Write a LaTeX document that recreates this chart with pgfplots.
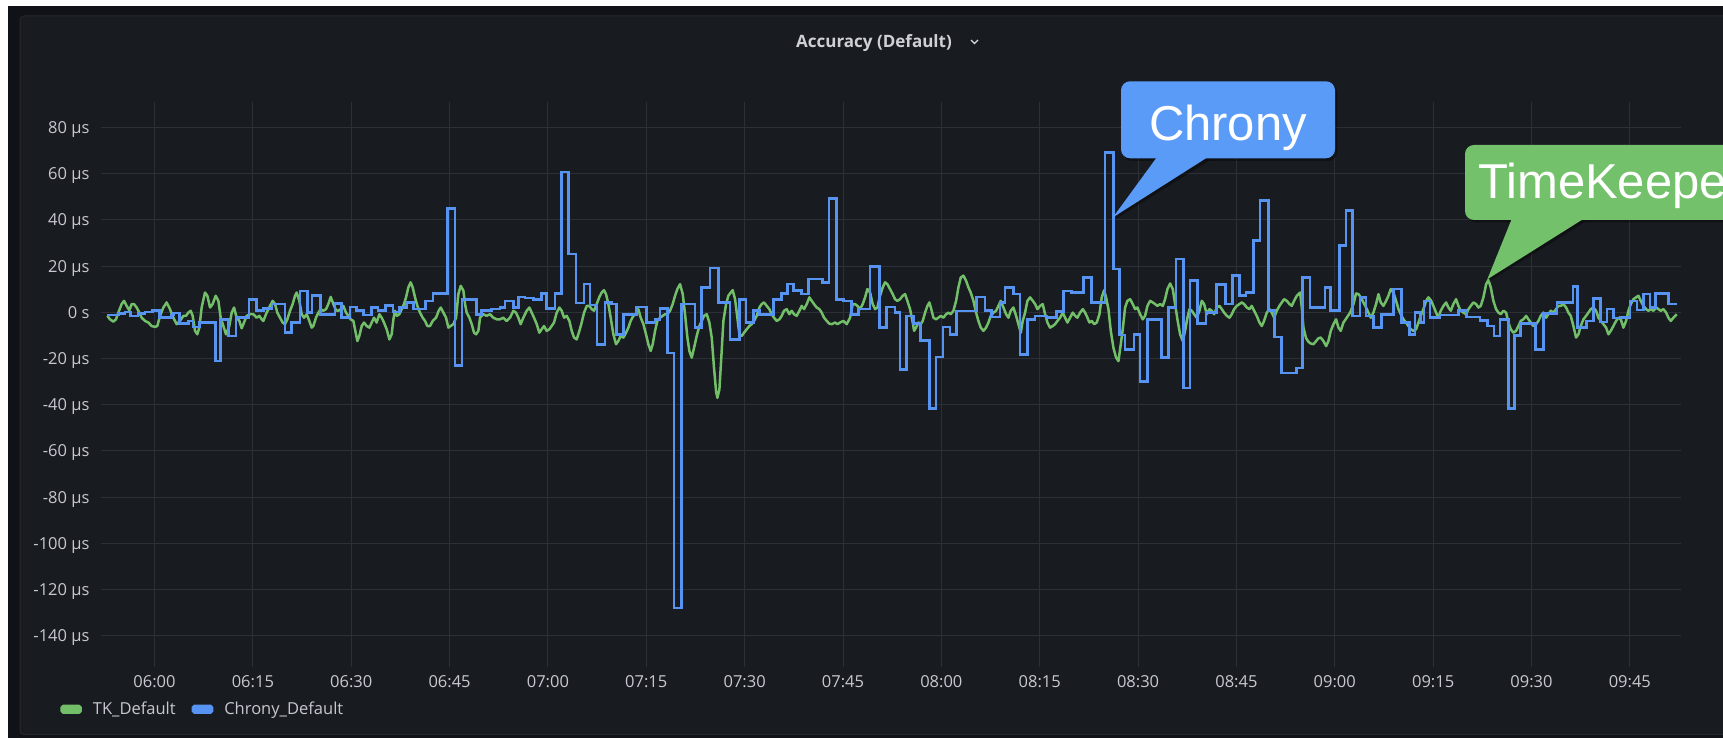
\documentclass[border=0pt]{standalone}
\usepackage{pgfplots}
\pgfplotsset{compat=1.18}
\usepackage{fontspec}
\setmainfont{Open Sans}
\newfontfamily\callfont{Liberation Sans}
\definecolor{outerbg}{HTML}{111217}
\definecolor{panelbg}{HTML}{181B1F}
\definecolor{panelborder}{HTML}{24272C}
\definecolor{gridcol}{HTML}{2C2F35}
\definecolor{tickcol}{HTML}{C7C8D1}
\definecolor{titlecol}{HTML}{CFD0D6}
\definecolor{tkgreen}{HTML}{73BF69}
\definecolor{chronyblue}{HTML}{5794F2}
\definecolor{callblue}{HTML}{5B9BF8}
\definecolor{callgreen}{HTML}{73C16B}
\begin{document}
\begin{tikzpicture}[x=1pt,y=1pt]
\fill[white] (0,0) rectangle (1723,738);
\useasboundingbox (0,0) rectangle (1723,738);
\fill[outerbg] (8,0) rectangle (1723,732);
\fill[panelbg, draw=panelborder, line width=1pt, rounded corners=4pt] (20,3.5) rectangle (1745,722);
\begin{axis}[
  at={(101pt,71pt)}, anchor=south west, scale only axis,
  width=1580pt, height=565.3pt,
  xmin=-8.16, xmax=232.8, ymin=-153.5, ymax=91.2,
  axis line style={draw=none}, tick style={draw=none}, major tick length=0pt,
  grid=major, major grid style={gridcol, line width=1pt},
  xtick={0,15,...,225},
  xticklabels={06:00,06:15,06:30,06:45,07:00,07:15,07:30,07:45,08:00,08:15,08:30,08:45,09:00,09:15,09:30,09:45},
  ytick={-140,-120,...,80},
  yticklabels={-140 µs,-120 µs,-100 µs,-80 µs,-60 µs,-40 µs,-20 µs,0 s,20 µs,40 µs,60 µs,80 µs},
  xticklabel style={anchor=base, yshift=-20.5pt, font=\fontsize{16.5}{18}\selectfont, text=tickcol},
  yticklabel style={anchor=base east, xshift=-8pt, yshift=-6pt, font=\fontsize{16.5}{18}\selectfont, text=tickcol},
  legend columns=-1,
  legend image code/.code={\fill[#1, rounded corners=1.5pt] (0pt,-3.3pt) rectangle (19pt,3.3pt);},
  legend style={at={(-0.0257,-0.0748)}, anchor=west, draw=none, fill=none, inner sep=0pt, outer sep=0pt,
    font=\fontsize{16.5}{18}\selectfont, text=tickcol,
    /tikz/every odd column/.append style={column sep=11pt},
    /tikz/every even column/.append style={column sep=16pt},
    nodes={inner sep=0pt}},
]
\addplot[tkgreen, line width=2.5pt, line join=round] coordinates {
(-7.19,-1.5)(-6.79,-3.0)(-6.28,-4.0)(-5.87,-3.0)(-5.52,-0.1)(-5.01,3.6)(-4.65,5.0)(-4.25,2.8)(-3.84,0.9)(-3.48,3.6)(-3.13,3.6)(-2.72,2.1)(-2.31,-0.1)(-1.96,-2.3)(-1.45,-3.7)(-0.94,-4.4)(-0.43,-5.9)(0.08,-6.3)(0.43,-5.9)(0.84,-1.5)(1.35,2.1)(1.86,4.3)(2.36,1.4)(2.87,-2.3)(3.38,-5.1)(3.89,-3.7)(4.40,-1.5)(4.80,-1.5)(5.16,-0.1)(5.52,0.7)(5.82,-1.5)(6.18,-8.0)(6.53,-9.5)(6.84,-6.6)(7.19,2.1)(7.70,8.6)(8.06,7.2)(8.47,2.1)(8.87,3.6)(9.33,7.2)(9.74,5.0)(10.09,-2.3)(10.50,-5.9)(10.91,-9.5)(11.41,-5.9)(11.77,-0.1)(12.13,2.1)(12.53,-2.3)(12.94,-3.7)(13.29,-6.9)(13.65,-4.4)(14.06,-1.5)(14.57,-0.8)(15.07,-0.8)(15.58,-2.3)(15.99,-1.5)(16.34,-3.0)(16.60,-3.7)(17.11,-0.1)(17.62,2.8)(18.02,5.0)(18.38,3.6)(18.73,-0.1)(19.14,-2.3)(19.55,-4.4)(19.90,-5.1)(20.26,-3.0)(20.67,0.7)(21.07,3.6)(21.43,7.2)(21.68,8.6)(22.09,5.0)(22.44,-0.8)(22.80,-2.3)(23.21,-0.8)(23.61,-3.7)(23.97,-6.6)(24.22,-5.9)(24.63,-2.3)(24.99,-0.1)(25.34,1.4)(25.75,0.7)(26.16,1.4)(26.51,3.6)(26.87,6.7)(27.28,3.6)(27.68,0.9)(28.04,0.7)(28.40,1.4)(28.80,2.8)(29.21,-0.1)(29.56,-1.5)(29.92,-3.0)(30.33,-3.7)(30.68,-8.8)(30.94,-12.4)(31.24,-10.2)(31.60,-5.9)(31.95,-4.4)(32.36,-5.9)(32.77,-6.6)(33.12,-4.4)(33.48,-2.3)(33.88,-4.4)(34.29,-0.8)(34.65,-2.3)(35.00,-4.4)(35.41,-7.3)(35.82,-11.7)(36.17,-9.5)(36.43,-3.0)(36.68,0.7)(36.94,-1.5)(37.34,-0.8)(37.70,1.4)(38.05,3.6)(38.36,6.5)(38.71,10.8)(39.07,13.0)(39.38,10.8)(39.73,6.5)(40.09,2.8)(40.49,-0.1)(40.90,-2.3)(41.26,-3.7)(41.61,-5.9)(42.02,-5.9)(42.43,-3.7)(42.94,-2.3)(43.34,0.7)(43.65,2.1)(44.06,-0.1)(44.46,-2.3)(44.82,-6.6)(45.17,-5.9)(45.58,-5.1)(45.99,-2.3)(46.34,7.9)(46.70,11.5)(47.11,9.4)(47.36,3.6)(47.61,-0.1)(48.02,-2.3)(48.38,-5.1)(48.73,-8.8)(49.04,-9.5)(49.39,-8.0)(49.65,-2.3)(50.15,-0.8)(50.66,-1.5)(51.17,-0.8)(51.68,-2.3)(52.19,-3.0)
(52.70,-3.0)(53.20,-2.3)(53.71,-3.7)(54.22,-2.3)(54.73,0.7)(55.13,-0.1)(55.49,-2.3)(55.84,-5.1)(56.25,-2.3)(56.76,0.7)(57.17,2.1)(57.52,-0.1)(57.88,-2.3)(58.29,-5.1)(58.69,-8.8)(59.05,-7.3)(59.41,-5.9)(59.81,-8.0)(60.22,-7.3)(60.57,-5.9)(60.93,-4.4)(61.34,-0.1)(61.74,2.1)(62.10,0.7)(62.46,-2.3)(62.86,-1.5)(63.27,-3.7)(63.63,-8.0)(63.98,-10.9)(64.39,-11.7)(64.80,-8.0)(65.15,-4.4)(65.51,-0.1)(65.92,2.8)(66.32,2.8)(66.68,1.4)(67.03,0.7)(67.44,3.6)(67.85,6.7)(68.20,8.6)(68.56,9.6)(68.86,7.9)(69.22,3.6)(69.57,-2.3)(69.98,-9.5)(70.39,-13.8)(70.74,-12.4)(71.10,-10.2)(71.51,-10.9)(71.91,-8.8)(72.27,-6.6)(72.62,-3.7)(73.03,-1.5)(73.44,-0.8)(73.79,1.4)(74.15,-2.3)(74.56,-5.1)(74.96,-9.5)(75.32,-13.8)(75.67,-16.7)(75.98,-13.8)(76.34,-8.0)(76.69,-3.7)(77.10,-2.3)(77.51,-1.5)(77.86,-0.8)(78.22,-0.8)(78.62,0.7)(79.03,3.6)(79.39,7.2)(79.74,10.1)(80.15,12.2)(80.56,7.9)(80.91,-0.8)(81.27,-10.9)(81.57,-16.7)(81.93,-19.6)(82.29,-15.3)(82.69,-10.2)(83.10,-5.9)(83.45,-3.7)(83.81,-1.5)(84.22,-0.8)(84.62,-4.4)(84.98,-10.9)(85.33,-24.0)(85.64,-34.1)(85.84,-37.0)(86.15,-33.4)(86.50,-16.7)(86.76,-3.7)(87.17,3.6)(87.52,7.2)(87.88,8.6)(88.18,9.6)(88.54,5.7)(88.89,-2.3)(89.20,-9.5)(89.56,-10.2)(89.91,-8.8)(90.32,-7.3)(90.72,-5.9)(91.08,-5.1)(91.44,-3.7)(91.84,-1.5)(92.25,2.1)(92.60,3.6)(92.96,4.3)(93.37,2.8)(93.77,1.4)(94.13,-0.8)(94.48,-2.3)(94.89,-3.7)(95.30,-3.0)(95.65,-1.5)(96.01,0.7)(96.42,1.4)(96.82,-0.8)(97.18,0.7)(97.53,-0.8)(97.94,-1.5)(98.35,0.7)(98.70,2.8)(99.06,1.4)(99.47,3.6)(99.87,6.5)(100.23,5.0)(100.58,3.6)(100.99,2.1)(101.40,1.4)(101.75,-0.1)(102.11,-2.3)(102.52,-3.7)(102.92,-4.9)(103.28,-5.1)(103.79,-4.4)(104.15,-5.1)(104.55,-4.4)(105.06,-3.7)(105.57,-5.1)(106.08,-2.3)(106.48,3.6)(106.84,3.6)(107.20,2.8)(107.60,1.4)(108.01,3.6)(108.37,6.5)(108.72,10.1)(109.13,8.6)(109.53,3.6)(109.89,1.4)(110.24,2.1)(110.65,7.2)(111.06,10.8)(111.41,13.0)(111.77,12.2)(112.17,10.1)(112.58,7.9)(112.94,5.7)(113.29,5.0)
(113.70,5.7)(114.11,7.2)(114.47,7.9)(114.82,5.0)(115.23,1.4)(115.64,-4.4)(115.84,-8.0)(116.14,-6.6)(116.50,-4.4)(116.86,-5.1)(117.16,-3.7)(117.52,-0.1)(117.87,2.8)(118.18,4.3)(118.53,0.7)(118.79,-2.3)(119.19,-3.0)(119.55,-2.3)(119.91,-1.5)(120.31,-2.3)(120.72,-0.8)(121.08,-0.1)(121.43,-0.8)(121.84,0.7)(122.25,5.0)(122.60,10.8)(122.96,15.1)(123.36,15.9)(123.77,13.7)(124.13,10.8)(124.48,8.6)(124.89,5.0)(125.30,-0.1)(125.65,-3.7)(126.01,-6.6)(126.42,-8.0)(126.82,-6.6)(127.18,-4.4)(127.53,-1.5)(127.94,-0.1)(128.35,0.7)(128.70,2.8)(129.06,5.0)(129.47,2.1)(129.87,-0.8)(130.23,-2.3)(130.58,0.7)(130.99,2.1)(131.40,-1.5)(131.75,-5.1)(132.11,-8.8)(132.41,-3.7)(132.77,-0.1)(133.13,5.0)(133.53,6.5)(133.94,5.0)(134.30,3.6)(134.65,1.4)(135.06,2.8)(135.46,3.6)(135.82,-0.8)(136.18,-4.4)(136.58,-6.6)(136.99,-5.9)(137.35,-5.1)(137.70,-3.7)(138.11,-2.3)(138.52,-0.1)(138.87,-2.3)(139.23,-4.4)(139.63,-2.3)(140.04,-0.1)(140.40,-1.5)(140.75,-2.3)(141.16,-0.1)(141.57,1.4)(141.92,-0.1)(142.28,-2.3)(142.58,-4.4)(142.94,-3.7)(143.30,-5.1)(143.70,-4.4)(144.11,-0.8)(144.46,6.5)(144.82,9.6)(145.12,6.5)(145.48,1.4)(145.84,-8.0)(146.24,-15.3)(146.65,-19.6)(147.01,-21.1)(147.36,-13.8)(147.67,-7.3)(148.02,2.1)(148.38,5.0)(148.79,5.7)(149.19,3.6)(149.55,1.4)(149.90,2.1)(150.31,-0.8)(150.72,-3.0)(151.07,-1.5)(151.43,2.8)(151.84,5.0)(152.24,4.3)(152.60,3.6)(152.95,2.8)(153.36,3.6)(153.77,2.8)(154.12,5.7)(154.48,10.1)(154.89,12.5)(155.29,10.1)(155.65,3.6)(156.00,-3.0)(156.41,-9.5)(156.82,-12.4)(157.17,-8.0)(157.53,-2.3)(157.84,1.4)(158.19,0.7)(158.55,-0.8)(158.95,-2.3)(159.36,0.7)(159.72,5.0)(160.07,3.6)(160.48,-0.8)(160.89,1.4)(161.24,0.7)(161.60,-0.8)(162.00,2.1)(162.41,2.8)(162.77,1.4)(163.12,-0.1)(163.53,-1.5)(163.94,-2.3)(164.29,-0.8)(164.65,1.4)(165.05,2.8)(165.46,3.6)(165.82,4.3)(166.17,3.6)(166.58,2.1)(166.99,1.4)(167.34,2.8)(167.70,0.7)(168.10,-1.5)(168.51,-4.4)(168.87,-5.9)(169.22,-3.7)(169.63,-0.1)(170.04,1.4)(170.39,-0.1)(170.75,-2.3)(171.15,0.7)(171.56,2.8)(171.92,4.3)(172.27,5.7)(172.68,5.0)(173.09,3.6)(173.44,2.8)(173.80,5.0)(174.21,7.2)
(174.71,8.6)(174.97,2.1)(175.22,-6.6)(175.63,-11.2)(175.98,-12.7)(176.34,-13.5)(176.75,-13.8)(177.15,-12.4)(177.51,-11.2)(177.86,-10.9)(178.27,-12.4)(178.68,-14.6)(179.03,-12.4)(179.39,-8.0)(179.80,-5.1)(180.20,-3.0)(180.56,-6.6)(180.91,-8.0)(181.32,-4.4)(181.83,-2.3)(182.34,-0.1)(182.85,3.6)(183.25,8.2)(183.61,7.9)(183.96,6.5)(184.37,4.3)(184.78,2.1)(185.13,-0.1)(185.49,-2.3)(185.89,-0.1)(186.30,3.6)(186.66,7.9)(187.01,4.3)(187.42,2.8)(187.83,5.0)(188.18,7.2)(188.54,10.1)(188.94,8.6)(189.35,5.0)(189.71,1.4)(190.06,-0.8)(190.47,-3.0)(190.87,-4.4)(191.23,-5.9)(191.59,-7.3)(191.99,-8.0)(192.40,-7.3)(192.76,-4.4)(193.11,-1.5)(193.52,1.4)(193.93,5.0)(194.28,6.5)(194.64,5.3)(195.04,2.8)(195.45,-0.1)(195.81,-2.3)(196.16,0.7)(196.57,2.8)(196.98,4.3)(197.33,2.1)(197.69,0.7)(198.09,3.6)(198.50,5.7)(198.86,2.8)(199.21,0.7)(199.62,-0.1)(200.03,-0.8)(200.38,1.4)(200.74,2.8)(201.14,4.3)(201.55,3.6)(201.91,2.1)(202.26,2.8)(202.67,6.5)(203.08,12.2)(203.43,14.0)(203.79,10.8)(204.19,5.0)(204.60,1.4)(204.96,-0.1)(205.31,-0.8)(205.72,0.7)(206.13,-0.1)(206.48,-4.4)(206.84,-7.3)(207.24,-8.8)(207.65,-8.0)(208.01,-5.9)(208.36,-3.7)(208.77,-3.0)(209.18,-1.5)(209.53,-3.0)(209.89,-4.4)(210.30,-5.9)(210.70,-5.1)(211.06,-3.7)(211.41,-1.5)(211.82,-0.1)(212.23,-2.3)(212.58,-0.8)(212.94,0.7)(213.35,-0.1)(213.75,1.4)(214.11,2.8)(214.46,2.8)(214.87,3.6)(215.28,2.1)(215.63,-0.1)(215.99,-1.5)(216.39,-5.9)(216.80,-10.9)(217.16,-9.5)(217.51,-5.9)(217.92,-3.0)(218.33,-1.5)(218.68,-0.1)(219.04,1.4)(219.44,2.1)(219.85,0.7)(220.21,-2.3)(220.56,-3.7)(220.97,-5.1)(221.38,-6.6)(221.73,-9.5)(222.09,-8.0)(222.49,-5.9)(222.90,-3.7)(223.26,-2.3)(223.61,-3.0)(224.02,-6.6)(224.43,-3.7)(224.78,0.7)(225.14,3.6)(225.55,5.7)(225.95,6.5)(226.31,7.2)(226.66,5.0)(227.07,2.8)(227.48,1.4)(227.83,0.7)(228.19,1.4)(228.60,0.7)(229.00,2.1)(229.36,1.4)(229.72,0.7)(230.12,1.4)(230.53,-0.1)(230.88,-2.3)(231.24,-3.7)(231.65,-2.3)(232.15,-0.8)
};
\addlegendentry{TK\_Default}
\addplot[chronyblue, line width=2.6pt, const plot] coordinates {
(-7.2,-1.2)(-5.5,-0.5)(-4.5,0.2)(-3.7,-1.5)(-2.5,-0.5)(-1.45,0.2)(-0.3,0.9)(0.74,-2.2)(2.6,-1.2)(2.9,-0.2)(3.8,-4.9)(5.2,-3.7)(5.9,-6.3)(6.9,-4.4)(9.3,-21.1)(10.1,-3.0)(11.3,-10.2)(12.4,-2.2)(14.4,5.7)(15.6,0.7)(16.6,1.8)(17.9,3.6)(19.9,-8.8)(20.9,-4.4)(22.2,9.3)(23.3,-0.1)(24.0,7.2)(25.3,-0.8)(27.5,3.8)(28.5,-2.2)(29.8,2.4)(30.8,0.7)(31.9,-1.2)(33.1,2.1)(34.1,0.7)(35.2,3.1)(36.4,0.2)(37.4,2.1)(38.4,4.3)(39.5,1.4)(41.3,5.0)(42.5,8.3)(44.7,44.9)(45.8,-23.0)(46.9,5.7)(49.1,-0.8)(49.9,0.7)(51.4,1.4)
(52.7,2.1)(53.46,5.0)(54.73,2.1)(55.49,6.7)(56.51,6.2)(57.78,5.7)(59.05,8.2)(59.81,1.8)(61.08,8.2)(62.10,60.8)(63.15,25.3)(64.3,4.0)(65.5,12.2)(66.4,3.2)(67.5,-13.8)(68.7,4.3)(69.7,3.6)(70.5,-9.5)(71.5,-0.8)(73.5,2.4)(75.07,-4.4)(76.33,-3.0)(77.10,1.8)(78.2,-17.5)(79.2,-128)(80.35,3.6)(82.44,-6.6)(83.45,10.8)(84.72,19.2)(85.99,4.3)(87.77,-11.7)(89.20,5.7)(90.21,-4.4)(91.33,0.9)(92.25,-0.8)(94.38,5.7)(95.65,8.2)(96.52,12.2)(97.43,9.6)(98.70,7.9)(99.72,14.4)(101.9,13.0)(102.85,49.2)(104.0,5.7)(105.06,5.0)(106.33,-0.8)(107.35,1.4)(109.12,19.8)(110.55,-6.6)(111.67,2.4)(112.94,-0.1)
(113.7,-24.7)(114.72,-1.5)(115.74,-4.9)(116.86,-12.1)(118.18,-41.5)(119.20,-19.3)(120.22,-6.3)(121.33,-9.5)(122.35,0.65)(125.40,6.7)(126.67,0.9)(127.69,-2.0)(128.96,4.3)(129.72,10.8)(131.0,7.9)(132.01,-18.2)(133.13,-3.0)(134.30,-1.5)(136.08,-2.2)(137.60,0.4)(138.62,9.3)(139.89,8.6)(141.67,15.1)(142.94,4.3)(144.97,69.2)(146.24,18.8)(147.16,-9.8)(148.02,-16.0)(149.39,-9.5)(150.31,-29.8)(151.43,-3.0)(153.61,-19.6)(154.63,2.1)(155.80,23.1)(156.92,-32.7)(157.94,13.7)(159.05,-4.9)(160.37,-0.1)(162.0,12.0)(163.37,3.6)(164.39,15.9)(165.46,7.2)(166.47,8.6)(167.59,31.1)(168.61,48.5)(169.88,0.7)(170.79,-10.7)(171.91,-26.2)(174.20,-24.0)(175.11,15.1)(176.23,2.1)(178.52,10.8)(179.38,0.7)(180.70,28.9)(181.72,44.1)(182.74,-1.5)(183.85,6.4)(184.77,-1.5)(185.89,-6.6)(187.16,-0.8)(188.94,10.1)(190.21,-4.4)(191.38,-9.5)(192.24,-0.1)(193.11,-4.4)(193.62,5.0)(194.53,-2.2)(196.06,-1.1)(198.85,0.7)(200.12,-2.0)(202.16,-3.4)(203.28,-5.9)(204.30,-10.2)
(205.2,-3.0)(206.5,-41.5)(207.4,-10.0)(208.3,-4.9)(210.6,-16.0)(211.8,-0.5)(213.9,4.3)(216.3,11.3)(217.0,-6.6)(218.4,-3.7)(219.5,6.0)(220.5,-4.1)(221.5,1.4)(222.5,-2.5)(223.5,-2.2)(225.0,5.0)(226.1,1.0)(227.1,7.9)(228.1,2.0)(228.9,8.2)(230.9,3.6)(232.2,3.6)
};
\addlegendentry{Chrony\_Default}
\end{axis}
% title
\node[anchor=base, text=titlecol, font=\fontsize{17}{20}\selectfont\bfseries] at (874,690.5) {Accuracy (Default)};
\draw[titlecol!75, line width=1.1pt] (971,698) -- (974.5,694.5) -- (978,698);
% Chrony callout
\fill[black, opacity=0.35, rounded corners=9pt] (1123,577) rectangle (1337,655);
\fill[black, opacity=0.35] (1159,578) -- (1210,578) -- (1115,518.5) -- cycle;
\fill[callblue, rounded corners=9pt] (1121,579.7) rectangle (1335,656.7);
\fill[callblue] (1157,581) -- (1208,581) -- (1113,520.7) -- cycle;
\node[anchor=base, inner sep=0pt, text=white, font=\callfont\fontsize{49}{52}\selectfont] at (1228,597) {Chrony};
% TimeKeeper callout
\fill[black, opacity=0.35, rounded corners=9pt] (1467,515.5) rectangle (1800,591);
\fill[black, opacity=0.35] (1514,516) -- (1585,516) -- (1489,456.5) -- cycle;
\fill[callgreen, rounded corners=9pt] (1465,518) rectangle (1800,593);
\fill[callgreen] (1511.7,519) -- (1583.3,519) -- (1487.3,458.7) -- cycle;
\node[anchor=base west, inner sep=0pt, text=white, font=\callfont\fontsize{49}{52}\selectfont] at (1478,539.7) {TimeKeeper};
\end{tikzpicture}
\end{document}
